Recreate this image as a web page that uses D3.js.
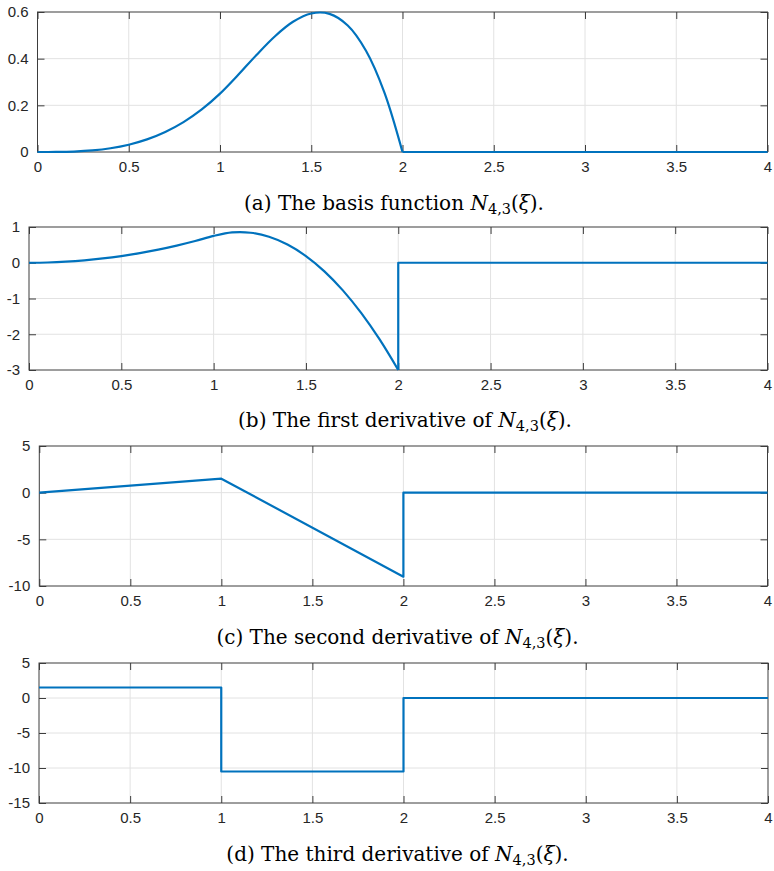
<!DOCTYPE html>
<html>
<head>
<meta charset="utf-8">
<script src="https://cdn.jsdelivr.net/npm/d3@7"></script>
<style>
  html, body { margin: 0; padding: 0; background: #fff; }
  svg { display: block; }
</style>
</head>
<body>
<svg id="fig" width="774" height="871"></svg>
<script>
// Cubic B-spline basis N_{4,3}(ξ) and its derivatives, sampled on [0, 2];
// the function and all derivatives are zero on [2, 4].
const xTicks = [0, 0.5, 1, 1.5, 2, 2.5, 3, 3.5, 4];

const smoothX = [0, 0.1, 0.2, 0.3, 0.4, 0.5, 0.6, 0.7, 0.8, 0.9, 1.0,
                 1.1, 1.2, 1.3, 1.4, 1.5, 1.6, 1.7, 1.8, 1.9, 2.0];

const basisY = [0, 0.00025, 0.002, 0.00675, 0.016, 0.03125, 0.054, 0.08575, 0.128, 0.18225, 0.25,
                0.33075, 0.416, 0.49525, 0.558, 0.59375, 0.592, 0.54225, 0.434, 0.25675, 0];
const basisStepX = [2, 4];
const basisStepY = [0, 0];

const firstY = [0, 0.0075, 0.03, 0.0675, 0.12, 0.1875, 0.27, 0.3675, 0.48, 0.6075, 0.75,
                0.8475, 0.84, 0.7275, 0.51, 0.1875, -0.24, -0.7725, -1.41, -2.1525, -3];
const firstStepX = [2, 2, 4];
const firstStepY = [-3, 0, 0];

const secondX = [0, 1, 2, 2, 4];
const secondY = [0, 1.5, -9, 0, 0];

const thirdX = [0, 1, 1, 2, 2, 4];
const thirdY = [1.5, 1.5, -10.5, -10.5, 0, 0];

const yTicksA = [0, 0.2, 0.4, 0.6];
const yTicksB = [-3, -2, -1, 0, 1];
const yTicksC = [-10, -5, 0, 5];
const yTicksD = [-15, -10, -5, 0, 5];

const captionA = "The basis function";
const captionB = "The first derivative of";
const captionC = "The second derivative of";
const captionD = "The third derivative of";

const zip = (xs, ys) => xs.map((x, i) => [x, ys[i]]);

const panels = [
  { box: [37.5, 12, 767.5, 152], yDomain: [0, 0.6], yTicks: yTicksA,
    pieces: [{ pts: zip(smoothX, basisY), smooth: true }, { pts: zip(basisStepX, basisStepY) }],
    tag: "(a)", text: captionA, cx: 394, cy: 210 },
  { box: [29, 227, 767.5, 370], yDomain: [-3, 1], yTicks: yTicksB,
    pieces: [{ pts: zip(smoothX, firstY), smooth: true }, { pts: zip(firstStepX, firstStepY) }],
    tag: "(b)", text: captionB, cx: 405, cy: 427 },
  { box: [39.3, 446, 767.5, 586], yDomain: [-10, 5], yTicks: yTicksC,
    pieces: [{ pts: zip(secondX, secondY) }],
    tag: "(c)", text: captionC, cx: 397.5, cy: 644 },
  { box: [39, 663, 768, 803], yDomain: [-15, 5], yTicks: yTicksD,
    pieces: [{ pts: zip(thirdX, thirdY) }],
    tag: "(d)", text: captionD, cx: 397.5, cy: 861 }
];

const svg = d3.select("#fig");
const axisColor = "#3d3d3d";
const gridColor = "#e2e2e2";
const tickLen = 7;
const fmt = d => String(d);

panels.forEach(p => {
  const [l, t, r, b] = p.box;
  const x = d3.scaleLinear().domain([0, 4]).range([l, r]);
  const y = d3.scaleLinear().domain(p.yDomain).range([b, t]);
  const g = svg.append("g");

  // grid
  g.append("g").selectAll("line").data(xTicks.slice(1, -1)).join("line")
    .attr("x1", d => x(d)).attr("x2", d => x(d)).attr("y1", t).attr("y2", b)
    .attr("stroke", gridColor).attr("stroke-width", 1);
  g.append("g").selectAll("line").data(p.yTicks.slice(1, -1)).join("line")
    .attr("y1", d => y(d)).attr("y2", d => y(d)).attr("x1", l).attr("x2", r)
    .attr("stroke", gridColor).attr("stroke-width", 1);

  // axes with inward ticks on all four sides
  const styleAxis = sel => {
    sel.attr("font-family", "'Liberation Sans', Arial, sans-serif").attr("font-size", 15);
    sel.select(".domain").remove();
    sel.selectAll(".tick line").attr("stroke", axisColor);
    sel.selectAll(".tick text").attr("fill", "#262626");
  };
  g.append("g").attr("transform", `translate(0,${b})`)
    .call(d3.axisBottom(x).tickValues(xTicks).tickFormat(fmt).tickSize(-tickLen).tickPadding(9))
    .call(styleAxis);
  g.append("g").attr("transform", `translate(0,${t})`)
    .call(d3.axisTop(x).tickValues(xTicks).tickFormat("").tickSize(-tickLen))
    .call(styleAxis);
  g.append("g").attr("transform", `translate(${l},0)`)
    .call(d3.axisLeft(y).tickValues(p.yTicks).tickFormat(fmt).tickSize(-tickLen).tickPadding(9))
    .call(styleAxis);
  g.append("g").attr("transform", `translate(${r},0)`)
    .call(d3.axisRight(y).tickValues(p.yTicks).tickFormat("").tickSize(-tickLen))
    .call(styleAxis);

  g.append("rect").attr("x", l).attr("y", t).attr("width", r - l).attr("height", b - t)
    .attr("fill", "none").attr("stroke", axisColor).attr("stroke-width", 1);

  // curves
  p.pieces.forEach(pc => {
    const line = d3.line().x(d => x(d[0])).y(d => y(d[1]))
      .curve(pc.smooth ? d3.curveCatmullRom.alpha(0.5) : d3.curveLinear);
    g.append("path").attr("d", line(pc.pts))
      .attr("fill", "none").attr("stroke", "#0072BD").attr("stroke-width", 2.2)
      .attr("stroke-linejoin", "round");
  });

  // caption
  const cap = svg.append("text").attr("x", p.cx).attr("y", p.cy)
    .attr("text-anchor", "middle").attr("fill", "#000")
    .attr("font-family", "'DejaVu Serif', serif").attr("font-size", 20);
  cap.append("tspan").text(`${p.tag} ${p.text} `);
  cap.append("tspan").attr("font-style", "italic").text("N");
  cap.append("tspan").attr("font-size", 14.5).attr("dy", 4).text("4,3");
  cap.append("tspan").attr("dy", -4).text("(");
  cap.append("tspan").attr("font-style", "italic").text("ξ");
  cap.append("tspan").text(").");
});
</script>
</body>
</html>
